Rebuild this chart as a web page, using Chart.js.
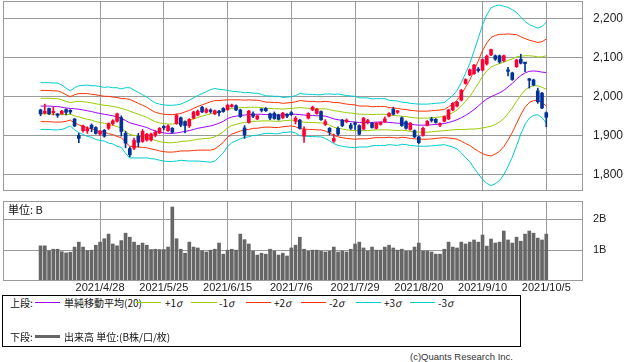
<!DOCTYPE html>
<html><head><meta charset="utf-8">
<script src="https://cdn.jsdelivr.net/npm/chart.js@4.4.1/dist/chart.umd.min.js"></script>
<style>
body{margin:0;background:#fff;width:638px;height:362px;overflow:hidden;position:relative;font-family:"Liberation Sans",Arial,sans-serif;}
canvas{position:absolute;left:0;}
#c1{top:0;}
#c2{top:195px;}
.t{position:absolute;font-family:"Noto Sans CJK JP","Liberation Sans",sans-serif;font-size:10px;color:#111;line-height:14px;white-space:nowrap;}
.ln{position:absolute;height:1px;}
#leg{position:absolute;left:2px;top:295px;width:519px;height:52px;border:1px solid #000;box-sizing:border-box;}
</style></head><body>
<canvas id="c1" width="638" height="195"></canvas>
<canvas id="c2" width="638" height="100"></canvas>
<div id="leg"></div>
<div class="t" style="left:8px;top:202px;font-size:11px;">単位: B</div>
<div class="t" style="left:10px;top:296px;">上段:</div>
<div class="ln" style="left:35px;top:302px;width:25px;background:#a000ff;"></div>
<div class="t" style="left:64px;top:296px;">単純移動平均(20)</div>
<div class="ln" style="left:136px;top:302px;width:25px;background:#99cc00;"></div>
<div class="t" style="left:165px;top:296px;">+1<i>σ</i></div>
<div class="ln" style="left:191px;top:302px;width:26px;background:#99cc00;"></div>
<div class="t" style="left:219px;top:296px;">-1<i>σ</i></div>
<div class="ln" style="left:246px;top:302px;width:25px;background:#ff3300;"></div>
<div class="t" style="left:274px;top:296px;">+2<i>σ</i></div>
<div class="ln" style="left:301px;top:302px;width:25px;background:#ff3300;"></div>
<div class="t" style="left:329px;top:296px;">-2<i>σ</i></div>
<div class="ln" style="left:356px;top:302px;width:25px;background:#00cccc;"></div>
<div class="t" style="left:384px;top:296px;">+3<i>σ</i></div>
<div class="ln" style="left:410px;top:302px;width:25px;background:#00cccc;"></div>
<div class="t" style="left:438px;top:296px;">-3<i>σ</i></div>
<div class="t" style="left:10px;top:330px;">下段:</div>
<div class="ln" style="left:35px;top:335px;width:25px;height:3px;background:#666;"></div>
<div class="t" style="left:64px;top:330px;">出来高 単位:(B株/口/枚)</div>
<div class="t" style="left:410px;top:350px;font-family:'Liberation Sans',sans-serif;font-size:9.5px;color:#333;">(c)Quants Research Inc.</div>
<script>
const dates = ["2021/4/8","2021/4/9","2021/4/12","2021/4/13","2021/4/14","2021/4/15","2021/4/16","2021/4/19","2021/4/20","2021/4/21","2021/4/22","2021/4/23","2021/4/26","2021/4/27","2021/4/28","2021/4/30",
"2021/5/6","2021/5/7","2021/5/10","2021/5/11","2021/5/12","2021/5/13","2021/5/14","2021/5/17","2021/5/18","2021/5/19","2021/5/20","2021/5/21","2021/5/24","2021/5/25","2021/5/26","2021/5/27","2021/5/28","2021/5/31",
"2021/6/1","2021/6/2","2021/6/3","2021/6/4","2021/6/7","2021/6/8","2021/6/9","2021/6/10","2021/6/11","2021/6/14","2021/6/15","2021/6/16","2021/6/17","2021/6/18","2021/6/21","2021/6/22","2021/6/23","2021/6/24","2021/6/25","2021/6/28","2021/6/29","2021/6/30",
"2021/7/1","2021/7/2","2021/7/5","2021/7/6","2021/7/7","2021/7/8","2021/7/9","2021/7/12","2021/7/13","2021/7/14","2021/7/15","2021/7/16","2021/7/19","2021/7/20","2021/7/21","2021/7/26","2021/7/27","2021/7/28","2021/7/29","2021/7/30",
"2021/8/2","2021/8/3","2021/8/4","2021/8/5","2021/8/6","2021/8/10","2021/8/11","2021/8/12","2021/8/13","2021/8/16","2021/8/17","2021/8/18","2021/8/19","2021/8/20","2021/8/23","2021/8/24","2021/8/25","2021/8/26","2021/8/27","2021/8/30","2021/8/31",
"2021/9/1","2021/9/2","2021/9/3","2021/9/6","2021/9/7","2021/9/8","2021/9/9","2021/9/10","2021/9/13","2021/9/14","2021/9/15","2021/9/16","2021/9/17","2021/9/21","2021/9/22","2021/9/24","2021/9/27","2021/9/28","2021/9/29","2021/9/30",
"2021/10/1","2021/10/4","2021/10/5"];
const tickLabels = ["2021/4/28","2021/5/25","2021/6/15","2021/7/6","2021/7/29","2021/8/20","2021/9/10","2021/10/5"];
const priceTicks = [1800,1900,2000,2100,2200];
const volTicks = [1,2];

const open = [1965,1957,1969,1958,1953,1955,1966,1964,1942,1900, 1912,1911,1926,1920,1903,1913,1918,1930,1936,1945, 1905,1866,1867,1898,1884,1888,1888,1900,1906,1921, 1912,1918,1930,1945,1935,1924,1944,1952,1972,1959, 1964,1955,1962,1969,1966,1974,1976,1965,1919,1933, 1955,1942,1966,1969,1955,1956,1952,1945,1954,1958, 1936,1939,1898,1944,1965,1956,1961,1928,1918,1885, 1918,1939,1935,1926,1930,1925,1916,1934,1931,1918, 1928,1935,1949,1967,1959,1945,1935,1915,1912,1896, 1900,1926,1941,1941,1926,1936,1942,1965,1975,1990, 2033,2055,2058,2068,2067,2083,2106,2104,2104,2091, 2066,2060,2076,2095,2086,2043,2042,2014,2008,1958];
const close = [1955,1962,1955,1960,1951,1962,1959,1960,1924,1892, 1924,1917,1918,1905,1911,1898,1930,1937,1955,1910, 1880,1850,1887,1882,1910,1903,1903,1908,1918,1919, 1924,1908,1951,1926,1925,1941,1960,1962,1960,1966, 1961,1963,1958,1961,1977,1976,1965,1948,1901,1962, 1949,1950,1964,1963,1944,1943,1941,1957,1949,1953, 1944,1918,1914,1956,1972,1967,1940,1935,1909,1892, 1903,1925,1939,1918,1928,1903,1944,1936,1920,1931, 1933,1942,1956,1954,1961,1925,1918,1931,1896,1881, 1918,1936,1938,1933,1930,1948,1965,1982,1985,2015, 2043,2068,2080,2066,2094,2103,2120,2095,2088,2104, 2064,2043,2093,2085,2084,2041,2029,1986,1970,1946];
const high = [1967,1980,1970,1972,1956,1964,1968,1966,1943,1905, 1926,1922,1929,1922,1912,1915,1932,1940,1957,1950, 1910,1870,1893,1905,1915,1905,1906,1912,1920,1925, 1927,1920,1955,1947,1937,1943,1962,1965,1974,1970, 1968,1965,1964,1971,1980,1980,1978,1967,1925,1964, 1960,1952,1968,1971,1957,1960,1954,1959,1956,1961, 1948,1941,1922,1958,1975,1969,1963,1940,1920,1903, 1922,1941,1942,1931,1934,1927,1946,1941,1933,1933, 1935,1947,1958,1972,1964,1947,1937,1933,1914,1898, 1921,1938,1946,1943,1932,1950,1967,1984,1987,2018, 2045,2070,2082,2074,2096,2106,2121,2106,2106,2106, 2074,2062,2095,2108,2087,2046,2044,2021,2010,1960];
const low = [1950,1955,1953,1952,1946,1954,1952,1955,1922,1881, 1908,1905,1909,1903,1900,1895,1915,1926,1934,1898, 1868,1845,1863,1870,1882,1885,1885,1896,1904,1914, 1910,1905,1928,1922,1906,1920,1942,1950,1958,1957, 1957,1953,1950,1959,1964,1972,1963,1946,1892,1931, 1945,1940,1960,1961,1940,1941,1939,1943,1945,1951, 1929,1916,1882,1942,1963,1954,1938,1925,1901,1882, 1900,1922,1932,1915,1915,1901,1914,1929,1918,1916, 1926,1933,1947,1952,1956,1923,1916,1913,1894,1879, 1898,1924,1934,1931,1922,1934,1940,1963,1973,1988, 2031,2053,2056,2062,2065,2080,2104,2092,2085,2089, 2052,2041,2074,2083,2063,2021,2027,1982,1968,1922];
const volume = [1.14,1.14,0.98,1.03,1.03,0.95,0.91,0.93,1.10,1.26, 1.10,0.98,1.00,1.16,1.26,1.37,1.52,1.20,1.14,1.31, 1.55,1.42,1.26,1.16,1.23,1.16,1.02,1.03,1.02,1.02, 1.10,2.40,1.37,1.03,0.90,1.26,1.10,1.07,0.98,0.94, 1.00,1.03,1.23,0.87,1.00,1.03,1.00,1.52,1.34,1.20, 0.97,0.84,0.90,0.87,1.03,0.97,0.84,0.90,0.81,1.07, 1.16,1.42,1.03,0.97,1.00,1.00,0.97,0.94,0.97,1.10, 0.94,0.97,0.94,1.03,1.20,1.26,1.07,0.97,1.10,1.00, 1.00,1.10,1.16,1.07,1.00,1.03,0.97,0.97,1.10,1.23, 0.97,0.97,0.94,0.87,0.87,1.03,1.26,1.10,1.07,1.26, 1.20,1.26,1.33,1.26,1.49,1.13,1.36,1.23,1.26,1.62, 1.33,1.23,1.42,1.29,1.52,1.62,1.55,1.39,1.33,1.52];
const sma20 = [1975,1975,1975,1974,1974, 1972,1970,1969,1968,1967, 1965,1963,1961,1958,1956, 1954,1952,1950,1947,1944, 1938,1932,1929,1926,1923, 1920,1915,1911,1908,1906, 1905,1905,1906,1908,1910, 1912,1915,1918,1920,1922, 1924,1927,1931,1936,1943, 1947,1949,1951,1952,1953, 1954,1954,1954,1953,1953, 1952,1952,1952,1953,1954, 1954,1953,1952,1951,1951, 1950,1950,1949,1946,1942, 1940,1938,1936,1935,1934, 1933,1933,1933,1933,1934, 1934,1934,1933,1932,1931, 1931,1930,1928,1927,1926, 1926,1926,1927,1928,1929, 1930,1933,1936,1940,1945, 1951,1958,1966,1975,1985, 1993,1999,2004,2009,2015, 2024,2033,2044,2053,2060, 2064,2065,2064,2062,2061];
const sigma = [20,20,20,20,20, 19,17,15,18,20, 21,22,22,23,23, 23,24,24,25,25, 28,30,29,28,27, 26,25,24,24,24, 24,24,24,24,25, 26,27,28,29,30, 31,31,29,27,24, 22,21,20,19,19, 18,18,17,16,16, 16,16,15,15,15, 16,18,18,18,18, 18,18,19,20,21, 22,22,22,22,22, 21,21,21,20,20, 20,20,19,19,19, 18,18,18,18,18, 18,18,18,18,18, 18,20,22,25,30, 36,42,50,58,66, 72,76,76,75,72, 68,63,57,50,44, 40,38,37,39,43];

const UP = '#ff0033', DOWN = '#003399';
const GRID = '#9a9a9a';
const tickIdx = tickLabels.map(l => dates.indexOf(l));
const XMIN = -8.84, XMAX = 127.64;

const frame = {
  id: 'frame',
  afterDraw(c) {
    const a = c.chartArea, ctx = c.ctx;
    ctx.save();
    ctx.strokeStyle = GRID; ctx.lineWidth = 1;
    ctx.strokeRect(Math.round(a.left) + 0.5, Math.round(a.top) + 0.5, Math.round(a.right - a.left) - 1, Math.round(a.bottom - a.top) - 1);
    ctx.restore();
  }
};
function noPad(s) { s.paddingTop = 0; s.paddingBottom = 0; s.paddingLeft = 0; s.paddingRight = 0; }

function band(k) { return sma20.map((m, i) => ({x: i, y: m + k * sigma[i]})); }
function lineDs(data, color) {
  return {type: 'line', data, borderColor: color, borderWidth: 1, pointRadius: 0, tension: 0, fill: false, order: 5};
}
const candleColor = dates.map((d, i) => close[i] >= open[i] ? UP : DOWN);

function xScale(showLabels, h) {
  return {type: 'linear', min: XMIN, max: XMAX, offset: false,
    afterBuildTicks: s => { s.ticks = tickIdx.map(v => ({value: v})); },
    afterFit: s => { s.height = h; noPad(s); },
    ticks: {display: showLabels, padding: 0, maxRotation: 0, autoSkip: false, color: '#222',
      font: {family: 'Liberation Sans', size: 11}, callback: v => dates[v]},
    grid: {color: GRID, drawTicks: false, offset: false}, border: {display: false}};
}

new Chart(document.getElementById('c1'), {
  type: 'bar',
  data: {
    datasets: [
      lineDs(band(3), '#00cccc'), lineDs(band(-3), '#00cccc'),
      lineDs(band(2), '#ff3300'), lineDs(band(-2), '#ff3300'),
      lineDs(band(1), '#99cc00'), lineDs(band(-1), '#99cc00'),
      lineDs(band(0), '#a000ff'),
      {type: 'bar', data: dates.map((d, i) => ({x: i, y: [low[i], high[i]]})), backgroundColor: candleColor, barThickness: 1, grouped: false, order: 2, borderWidth: 0},
      {type: 'bar', data: dates.map((d, i) => ({x: i, y: [open[i], close[i]]})), backgroundColor: candleColor, barThickness: 3, grouped: false, order: 1, borderWidth: 0, minBarLength: 1.5}
    ]
  },
  options: {
    responsive: false, animation: false, devicePixelRatio: 1,
    layout: {padding: {left: 3, top: 1, right: 0, bottom: 4}},
    plugins: {legend: {display: false}, tooltip: {enabled: false}},
    scales: {
      x: xScale(false, 0),
      y: {position: 'right', min: 1757.2, max: 2244.4,
        afterBuildTicks: s => { s.ticks = priceTicks.map(v => ({value: v})); },
        afterFit: s => { s.width = 55; noPad(s); },
        ticks: {padding: 10, color: '#222', font: {family: 'Liberation Sans', size: 12}, callback: v => v.toLocaleString('en-US')},
        grid: {color: GRID, drawTicks: false}, border: {display: false}}
    }
  },
  plugins: [frame]
});

new Chart(document.getElementById('c2'), {
  type: 'bar',
  data: {
    datasets: [{data: dates.map((d, i) => ({x: i, y: volume[i]})), backgroundColor: '#666666', barThickness: 3, borderWidth: 0}]
  },
  options: {
    responsive: false, animation: false, devicePixelRatio: 1,
    layout: {padding: {left: 3, top: 6, right: 0, bottom: 0}},
    plugins: {legend: {display: false}, tooltip: {enabled: false}},
    scales: {
      x: xScale(true, 14),
      y: {position: 'right', min: 0, max: 2.593,
        afterBuildTicks: s => { s.ticks = volTicks.map(v => ({value: v})); },
        afterFit: s => { s.width = 55; noPad(s); },
        ticks: {padding: 10, color: '#222', font: {family: 'Liberation Sans', size: 11}, callback: v => v + 'B'},
        grid: {color: GRID, drawTicks: false}, border: {display: false}}
    }
  },
  plugins: [frame]
});
</script>
</body></html>
